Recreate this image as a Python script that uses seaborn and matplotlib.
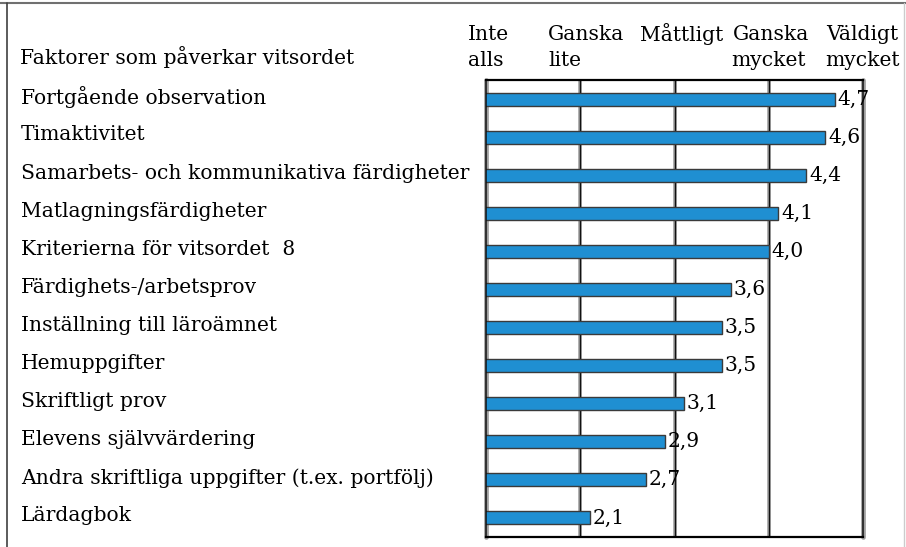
import matplotlib
matplotlib.use('Agg')
import matplotlib.pyplot as plt
import matplotlib.transforms as mtrans
import seaborn as sns
from matplotlib.lines import Line2D

# faktorer och medelvärden (skala 1-5)
faktorer = ['Fortgående observation', 'Timaktivitet',
            'Samarbets- och kommunikativa färdigheter', 'Matlagningsfärdigheter',
            'Kriterierna för vitsordet  8', 'Färdighets-/arbetsprov',
            'Inställning till läroämnet', 'Hemuppgifter', 'Skriftligt prov',
            'Elevens självvärdering', 'Andra skriftliga uppgifter (t.ex. portfölj)',
            'Lärdagbok']
medel = [4.7, 4.6, 4.4, 4.1, 4.0, 3.6, 3.5, 3.5, 3.1, 2.9, 2.7, 2.1]
skala = [1, 2, 3, 4, 5]
rubrik = 'Faktorer som påverkar vitsordet'

sns.set_style('white')
plt.rcParams['font.family'] = ['DejaVu Serif']
plt.rcParams['text.color'] = 'black'
plt.rcParams['ytick.color'] = 'black'
plt.rcParams['ytick.labelcolor'] = 'black'
FS = 14.6

W, H = 906, 547
fig = plt.figure(figsize=(W / 100, H / 100), dpi=100)
ax = fig.add_axes([486 / W, 1 - 537 / H, (863 - 486) / W, (537 - 80) / H])

sns.barplot(x=medel, y=faktorer, orient='h', color='#1f8fd2', saturation=1,
            width=0.34, edgecolor='#3a3a3a', linewidth=1, ax=ax)

ax.set_xlim(skala[0], skala[-1])
ax.set_ylim(len(faktorer) - 0.5, -0.5)
ax.set_xticks([])
ax.set_xlabel('')
ax.set_ylabel('')

# dubbla stödlinjer
for v in skala[1:-1]:
    ax.axvline(v, color='#a0a0a0', lw=2.6, zorder=0.5)
    ax.axvline(v, color='#111111', lw=1.0, zorder=0.6)
for s in ['left', 'right']:
    ax.spines[s].set_color('#111111')
    ax.spines[s].set_linewidth(1.1)
for v in [skala[0], skala[-1]]:
    ax.axvline(v, color='#a0a0a0', lw=3.4, zorder=0.4, clip_on=False)
for s in ['top', 'bottom']:
    ax.spines[s].set_color('black')
    ax.spines[s].set_linewidth(1.6)

ax.tick_params(axis='y', length=0, pad=335, labelsize=FS, labelcolor='black')
lyft = mtrans.ScaledTranslation(0, 3 / 72, fig.dpi_scale_trans)
for t in ax.get_yticklabels():
    t.set_ha('left')
    t.set_transform(t.get_transform() + lyft)

ax.bar_label(ax.containers[0], labels=[f'{v:.1f}'.replace('.', ',') for v in medel],
             padding=2, fontsize=FS, color='black')

# rubriker
fig.text(20 / W, 1 - 57 / H, rubrik, fontsize=FS, va='center', ha='left')
huvud = [('Inte', 468, 34, 'left'), ('alls', 468, 60, 'left'),
         ('Ganska', 548, 34, 'left'), ('lite', 548, 60, 'left'),
         ('Måttligt', 640, 34, 'left'),
         ('Ganska', 733, 34, 'left'), ('mycket', 806, 60, 'right'),
         ('Väldigt', 826, 34, 'left'), ('mycket', 900, 60, 'right')]
for txt, x, y, ha in huvud:
    fig.text(x / W, 1 - y / H, txt, fontsize=FS, va='center', ha=ha)

# ram runt figuren
fig.add_artist(Line2D([0, 1], [1 - 3 / H, 1 - 3 / H], color='#707070', lw=1.5))
fig.add_artist(Line2D([7 / W, 7 / W], [0, 1 - 3 / H], color='#404040', lw=1.2))
fig.add_artist(Line2D([904 / W, 904 / W], [0, 1 - 3 / H], color='#cccccc', lw=1))

fig.savefig('out.png', dpi=100)
